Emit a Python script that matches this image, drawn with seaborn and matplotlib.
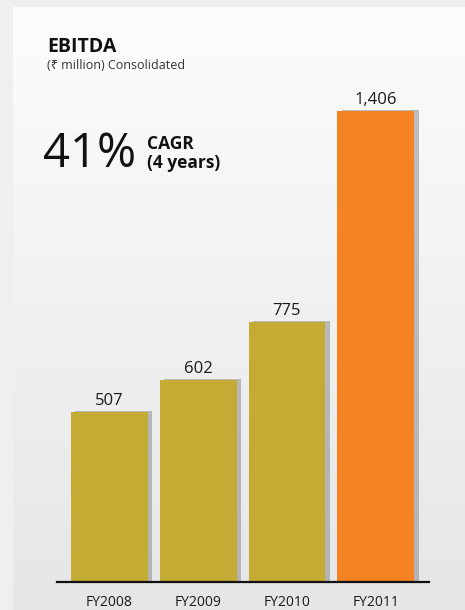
import numpy as np
import matplotlib
matplotlib.use("Agg")
import matplotlib.pyplot as plt
import matplotlib.patheffects as pe
import seaborn as sns

# EBITDA by fiscal year, ₹ million (consolidated)
years = ["FY2008", "FY2009", "FY2010", "FY2011"]
ebitda = [507, 602, 775, 1406]
bar_colors = ["#c4ab33", "#c4ab33", "#c4ab33", "#f48324"]
value_labels = ["507", "602", "775", "1,406"]

title = "EBITDA"
subtitle = "(₹ million) Consolidated"
cagr_value = "41%"
cagr_line1 = "CAGR"
cagr_line2 = "(4 years)"

sns.set_theme(style="white")
plt.rcParams["font.family"] = ["Open Sans", "Noto Sans", "DejaVu Sans"]

W, H = 465, 610
fig = plt.figure(figsize=(W / 100, H / 100), dpi=100)
fig.patch.set_facecolor("#efefef")

# soft vertical gradient panel behind the chart
bg = fig.add_axes([13 / W, 0, (W - 13) / W, (H - 7) / H], zorder=0)
top = np.array([0.992, 0.992, 0.992])
bot = np.array([0.902, 0.898, 0.906])
t = np.linspace(0, 1, 256)[:, None, None]
grad = top * (1 - t) + bot * t
grad = np.repeat(grad, 2, axis=1)
bg.imshow(grad, aspect="auto", extent=[0, 1, 0, 1])
bg.set_axis_off()

ax = fig.add_axes([57 / W, 28 / H, (429 - 57) / W, (582 - 8) / H], zorder=1)
ax.patch.set_alpha(0)

sns.barplot(x=years, y=ebitda, hue=years, palette=bar_colors, width=0.865,
            saturation=1, legend=False, ax=ax)

for p in ax.patches:
    p.set_linewidth(0)
    p.set_path_effects([pe.SimplePatchShadow(offset=(3.2, 0.8), shadow_rgbFace="#8c8c8c", alpha=0.55),
                        pe.Normal()])

for cont, lab in zip(ax.containers, value_labels):
    ax.bar_label(cont, labels=[lab], padding=2.5, fontsize=12, color="#1a1a1a")

ax.set_xlim(-0.59, 3.60)
ax.set_ylim(0, 1713.5)
ax.set_yticks([])
ax.set_xlabel("")
ax.set_ylabel("")
for s in ["top", "right", "left"]:
    ax.spines[s].set_visible(False)
ax.spines["bottom"].set_color("#111111")
ax.spines["bottom"].set_linewidth(1.6)
ax.tick_params(axis="x", length=0, pad=9, labelsize=10, labelcolor="#1a1a1a")

def fx(x):
    return x / W

def fy(y):
    return 1 - y / H

fig.text(fx(47), fy(52), title, fontsize=14, fontweight="bold", color="#111111", va="baseline")
fig.text(fx(47), fy(69), subtitle, fontsize=9, color="#333333", va="baseline")
fig.text(fx(43), fy(167), cagr_value, fontsize=34, color="#111111", va="baseline")
fig.text(fx(147), fy(149), cagr_line1, fontsize=12.5, fontweight="bold", color="#111111", va="baseline")
fig.text(fx(147), fy(168), cagr_line2, fontsize=12.5, fontweight="bold", color="#111111", va="baseline")

fig.savefig("out.png", dpi=100, facecolor=fig.get_facecolor())
